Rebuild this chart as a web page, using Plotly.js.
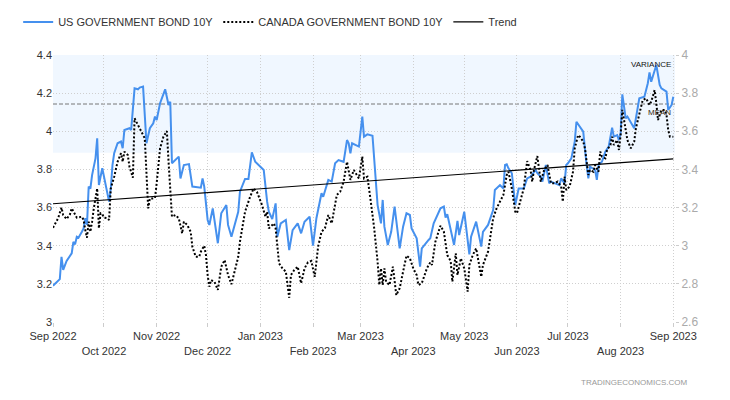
<!DOCTYPE html>
<html>
<head>
<meta charset="utf-8">
<script src="https://cdn.plot.ly/plotly-3.0.1.min.js"></script>
<style>
  html, body { margin: 0; padding: 0; background: #fff; }
  #chart { width: 730px; height: 400px; }
</style>
</head>
<body>
<div id="chart"></div>
<script>
// ---------- DATA ----------
const usDates = [
'2022-09-01','2022-09-05','2022-09-06','2022-09-07','2022-09-09','2022-09-12','2022-09-13','2022-09-14','2022-09-15','2022-09-16',
'2022-09-18','2022-09-19','2022-09-20','2022-09-21','2022-09-22','2022-09-23','2022-09-24','2022-09-26','2022-09-27','2022-09-28',
'2022-09-30','2022-10-03','2022-10-04','2022-10-05','2022-10-06','2022-10-07','2022-10-09','2022-10-11','2022-10-12','2022-10-13',
'2022-10-16','2022-10-17','2022-10-19','2022-10-21','2022-10-22','2022-10-24','2022-10-26','2022-10-28','2022-10-30','2022-10-31',
'2022-11-01','2022-11-03','2022-11-06','2022-11-08','2022-11-09','2022-11-10','2022-11-12','2022-11-14','2022-11-15','2022-11-17',
'2022-11-20','2022-11-22','2022-11-27','2022-11-28','2022-11-29','2022-12-01','2022-12-02','2022-12-04','2022-12-07','2022-12-09',
'2022-12-12','2022-12-13','2022-12-15','2022-12-19','2022-12-20','2022-12-23','2022-12-25','2022-12-27','2022-12-29','2023-01-01',
'2023-01-03','2023-01-05','2023-01-06','2023-01-08','2023-01-10','2023-01-11','2023-01-13','2023-01-16','2023-01-18','2023-01-20',
'2023-01-23','2023-01-25','2023-01-27','2023-01-30','2023-02-01','2023-02-03','2023-02-06','2023-02-07','2023-02-10','2023-02-12',
'2023-02-14','2023-02-16','2023-02-19','2023-02-21','2023-02-22','2023-02-23','2023-02-24','2023-02-28','2023-03-02','2023-03-03',
'2023-03-05','2023-03-08','2023-03-10','2023-03-11','2023-03-13','2023-03-14','2023-03-15','2023-03-17','2023-03-19','2023-03-21',
'2023-03-24','2023-03-26','2023-03-28','2023-03-30','2023-03-31','2023-04-03','2023-04-05','2023-04-06','2023-04-10','2023-04-11',
'2023-04-13','2023-04-17','2023-04-19','2023-04-20','2023-04-21','2023-04-25','2023-04-27','2023-04-28','2023-05-01','2023-05-04',
'2023-05-05','2023-05-08','2023-05-11','2023-05-12','2023-05-15','2023-05-18','2023-05-19','2023-05-21','2023-05-22','2023-05-24',
'2023-05-25','2023-05-26','2023-05-27','2023-05-29','2023-05-31','2023-06-02','2023-06-05','2023-06-07','2023-06-09','2023-06-12',
'2023-06-13','2023-06-15','2023-06-16','2023-06-18','2023-06-20','2023-06-21','2023-06-24','2023-06-26','2023-06-27','2023-06-29',
'2023-06-30','2023-07-01','2023-07-03','2023-07-05','2023-07-06','2023-07-08','2023-07-10','2023-07-12','2023-07-13','2023-07-14',
'2023-07-17','2023-07-18','2023-07-19','2023-07-21','2023-07-23','2023-07-25','2023-07-27','2023-07-28','2023-07-30','2023-07-31',
'2023-08-01','2023-08-02','2023-08-04','2023-08-05','2023-08-07','2023-08-09','2023-08-12','2023-08-15','2023-08-17','2023-08-18',
'2023-08-19','2023-08-22','2023-08-24','2023-08-25','2023-08-28','2023-08-29','2023-08-31','2023-09-01'
];
const usYield = [
3.19,3.225,3.342,3.273,3.32,3.36,3.42,3.407,3.447,3.442,
3.473,3.491,3.544,3.51,3.71,3.70,3.77,3.858,3.963,3.718,
3.806,3.683,3.631,3.70,3.823,3.885,3.937,3.946,3.911,4.007,
4.016,4.007,4.225,4.22,4.229,4.234,3.937,4.016,4.042,4.077,
4.059,4.147,4.22,4.138,4.155,3.832,3.849,3.867,3.753,3.823,
3.828,3.71,3.704,3.753,3.71,3.535,3.509,3.596,3.413,3.57,
3.613,3.509,3.447,3.578,3.683,3.75,3.75,3.89,3.84,3.814,
3.797,3.631,3.578,3.54,3.622,3.447,3.517,3.535,3.377,3.482,
3.517,3.465,3.526,3.552,3.40,3.544,3.675,3.657,3.745,3.736,
3.832,3.849,3.84,3.954,3.937,3.885,3.937,3.92,4.077,3.972,
3.984,3.977,3.70,3.613,3.517,3.64,3.50,3.404,3.473,3.605,
3.386,3.50,3.57,3.561,3.491,3.439,3.29,3.386,3.43,3.439,
3.517,3.596,3.605,3.547,3.565,3.404,3.53,3.456,3.578,3.355,
3.447,3.526,3.395,3.473,3.509,3.587,3.692,3.71,3.718,3.70,
3.823,3.827,3.806,3.78,3.613,3.70,3.70,3.753,3.762,3.797,
3.78,3.762,3.736,3.823,3.727,3.736,3.727,3.718,3.753,3.727,
3.823,3.832,3.858,3.946,4.05,4.024,3.998,3.823,3.753,3.814,
3.797,3.745,3.823,3.84,3.893,3.92,4.019,3.972,3.98,3.954,
3.989,4.194,4.068,4.077,4.05,4.016,4.173,4.181,4.252,4.309,
4.26,4.348,4.243,4.225,4.208,4.112,4.138,4.181
];

const caDates = [
'2022-09-01','2022-09-04','2022-09-06','2022-09-07','2022-09-09','2022-09-11','2022-09-12','2022-09-14','2022-09-15','2022-09-18',
'2022-09-19','2022-09-20','2022-09-21','2022-09-22','2022-09-23','2022-09-24','2022-09-25','2022-09-27','2022-09-28','2022-09-29',
'2022-09-30','2022-10-01','2022-10-03','2022-10-04','2022-10-05','2022-10-07','2022-10-09','2022-10-11','2022-10-12','2022-10-13',
'2022-10-15','2022-10-16','2022-10-18','2022-10-19','2022-10-21','2022-10-22','2022-10-25','2022-10-27','2022-10-28','2022-10-30',
'2022-10-31','2022-11-01','2022-11-03','2022-11-05','2022-11-07','2022-11-08','2022-11-10','2022-11-12','2022-11-14','2022-11-16',
'2022-11-17','2022-11-19','2022-11-21','2022-11-22','2022-11-24','2022-11-26','2022-11-27','2022-11-29','2022-11-30','2022-12-01',
'2022-12-02','2022-12-03','2022-12-05','2022-12-07','2022-12-09','2022-12-11','2022-12-13','2022-12-15','2022-12-19','2022-12-20',
'2022-12-23','2022-12-26','2022-12-28','2022-12-30','2023-01-02','2023-01-04','2023-01-05','2023-01-06','2023-01-09','2023-01-10',
'2023-01-12','2023-01-14','2023-01-16','2023-01-18','2023-01-19','2023-01-21','2023-01-23','2023-01-25','2023-01-27','2023-01-29',
'2023-01-31','2023-02-02','2023-02-04','2023-02-06','2023-02-08','2023-02-10','2023-02-12','2023-02-15','2023-02-17','2023-02-19',
'2023-02-21','2023-02-23','2023-02-25','2023-02-28','2023-03-02','2023-03-03','2023-03-05','2023-03-07','2023-03-09','2023-03-11',
'2023-03-12','2023-03-13','2023-03-14','2023-03-15','2023-03-16','2023-03-18','2023-03-20','2023-03-22','2023-03-24','2023-03-26',
'2023-03-28','2023-03-30','2023-04-01','2023-04-03','2023-04-04','2023-04-06','2023-04-09','2023-04-11','2023-04-12','2023-04-14',
'2023-04-17','2023-04-19','2023-04-21','2023-04-23','2023-04-24','2023-04-26','2023-04-27','2023-04-29','2023-05-01','2023-05-03',
'2023-05-04','2023-05-06','2023-05-08','2023-05-11','2023-05-12','2023-05-15','2023-05-18','2023-05-20','2023-05-22','2023-05-24',
'2023-05-26','2023-05-27','2023-05-29','2023-05-31','2023-06-01','2023-06-03','2023-06-05','2023-06-07','2023-06-09','2023-06-10',
'2023-06-11','2023-06-13','2023-06-15','2023-06-17','2023-06-19','2023-06-21','2023-06-23','2023-06-25','2023-06-27','2023-06-28',
'2023-06-29','2023-06-30','2023-07-02','2023-07-04','2023-07-05','2023-07-07','2023-07-08','2023-07-10','2023-07-11','2023-07-13',
'2023-07-14','2023-07-16','2023-07-17','2023-07-19','2023-07-20','2023-07-21','2023-07-23','2023-07-24','2023-07-26','2023-07-27',
'2023-07-28','2023-07-30','2023-07-31','2023-08-01','2023-08-02','2023-08-04','2023-08-05','2023-08-07','2023-08-09','2023-08-10',
'2023-08-12','2023-08-14','2023-08-16','2023-08-18','2023-08-19','2023-08-21','2023-08-22','2023-08-23','2023-08-25','2023-08-27',
'2023-08-28','2023-08-29','2023-08-30','2023-09-01'
];
const caYield = [
3.094,3.144,3.20,3.161,3.14,3.165,3.196,3.161,3.147,3.152,
3.135,3.082,3.042,3.126,3.073,3.126,3.196,3.30,3.091,3.17,
3.165,3.147,3.144,3.135,3.30,3.362,3.44,3.485,3.44,3.493,
3.476,3.414,3.357,3.668,3.633,3.607,3.563,3.196,3.248,3.248,
3.25,3.327,3.511,3.572,3.601,3.44,3.152,3.161,3.144,3.065,
3.126,3.109,3.073,2.995,2.942,2.942,2.969,3.00,2.951,2.846,
2.785,2.82,2.811,2.768,2.89,2.925,2.846,2.798,2.942,3.021,
3.178,3.257,3.30,3.283,3.213,3.152,3.178,3.091,3.117,3.091,
2.908,2.881,2.864,2.727,2.846,2.873,2.89,2.803,2.881,2.913,
2.92,2.837,2.995,3.073,3.091,3.161,3.117,3.266,3.283,3.336,
3.44,3.345,3.397,3.353,3.467,3.353,3.362,3.231,3.091,2.916,
2.794,2.881,2.794,2.881,2.811,2.794,2.89,2.741,2.777,2.864,
2.948,2.934,2.881,2.846,2.794,2.803,2.881,2.913,2.899,3.021,
3.105,3.073,2.951,2.92,2.811,2.96,2.846,2.934,2.881,2.759,
2.899,2.951,2.986,2.837,2.899,2.969,3.144,3.196,3.231,3.266,
3.371,3.388,3.30,3.178,3.17,3.231,3.30,3.444,3.397,3.336,
3.397,3.47,3.336,3.397,3.423,3.327,3.327,3.336,3.31,3.231,
3.362,3.292,3.31,3.388,3.511,3.58,3.572,3.546,3.511,3.371,
3.397,3.388,3.423,3.388,3.493,3.467,3.458,3.502,3.528,3.572,
3.528,3.554,3.502,3.58,3.712,3.607,3.554,3.511,3.546,3.616,
3.686,3.764,3.773,3.738,3.755,3.816,3.747,3.659,3.712,3.712,
3.686,3.607,3.572,3.572
];

const trendDates = ['2022-09-01','2023-09-01'];
const trendValues = [3.62, 3.855];

const meanValue = 4.143;      // US series mean marker
const bandLower = 3.888;      // variance band lower bound

const xTickDates = ['2022-09-01','2022-10-01','2022-11-01','2022-12-01','2023-01-01','2023-02-01','2023-03-01',
                    '2023-04-01','2023-05-01','2023-06-01','2023-07-01','2023-08-01','2023-09-01'];
const xTickLabels = ['Sep 2022','Oct 2022','Nov 2022','Dec 2022','Jan 2023','Feb 2023','Mar 2023',
                     'Apr 2023','May 2023','Jun 2023','Jul 2023','Aug 2023','Sep 2023'];

const seriesNames = ['US GOVERNMENT BOND 10Y','CANADA GOVERNMENT BOND 10Y','Trend'];

// ---------- CHART ----------
const font = 'Liberation Sans, Arial, sans-serif';

const traces = [
  { x: usDates, y: usYield, name: seriesNames[0], type: 'scatter', mode: 'lines',
    line: { color: '#4590ee', width: 2 }, yaxis: 'y', hoverinfo: 'skip' },
  { x: caDates, y: caYield, name: seriesNames[1], type: 'scatter', mode: 'lines',
    line: { color: '#000000', width: 2, dash: '2px,2px' }, yaxis: 'y2', hoverinfo: 'skip' },
  { x: trendDates, y: trendValues, name: seriesNames[2], type: 'scatter', mode: 'lines',
    line: { color: '#000000', width: 1.2 }, yaxis: 'y', hoverinfo: 'skip' }
];

const layout = {
  width: 730, height: 400,
  margin: { l: 53, r: 55, t: 55, b: 78, autoexpand: false },
  paper_bgcolor: '#ffffff', plot_bgcolor: '#ffffff',
  font: { family: font, size: 11, color: '#333' },
  showlegend: true,
  legend: {
    orientation: 'h', x: -0.056, xanchor: 'left', y: 1.124, yanchor: 'middle',
    font: { family: font, size: 11, color: '#333' }, bgcolor: 'rgba(0,0,0,0)',
    traceorder: 'normal'
  },
  xaxis: {
    type: 'date', range: ['2022-09-01', '2023-09-02'],
    tickmode: 'array', tickvals: xTickDates,
    ticktext: xTickLabels.map((t, i) => (i % 2 ? '<br>' + t : t)),
    tickangle: 0,
    showgrid: true, gridcolor: '#cfcfcf', griddash: '1px,2px', gridwidth: 1,
    ticks: 'outside', ticklen: 4, tickcolor: '#cccccc',
    zeroline: false, showline: false,
    tickfont: { family: font, size: 11, color: '#333' }
  },
  yaxis: {
    range: [3, 4.4], dtick: 0.2, tick0: 3,
    showgrid: true, gridcolor: '#cfcfcf', griddash: '1px,2px', gridwidth: 1,
    zeroline: false, showline: false, ticks: '',
    tickfont: { family: font, size: 11, color: '#333' }
  },
  yaxis2: {
    range: [2.6, 4.0], dtick: 0.2, tick0: 2.6,
    overlaying: 'y', side: 'right', showgrid: false, zeroline: false, showline: false,
    ticks: 'outside', ticklen: 3, tickcolor: '#cccccc',
    tickfont: { family: font, size: 12, color: '#aaaaaa' }
  },
  shapes: [
    { type: 'rect', xref: 'paper', x0: 0, x1: 1, yref: 'y', y0: bandLower, y1: 4.4,
      fillcolor: '#f0f7ff', line: { width: 0 }, layer: 'between' },
    { type: 'line', xref: 'paper', x0: 0, x1: 1, yref: 'y', y0: meanValue, y1: meanValue,
      line: { color: '#777777', width: 1, dash: '4px,2px' }, layer: 'between' }
  ],
  annotations: [
    { text: 'VARIANCE', xref: 'paper', yref: 'paper', x: 0.997, y: 0.963, xanchor: 'right', yanchor: 'middle',
      showarrow: false, font: { family: font, size: 8, color: '#111' } },
    { text: 'MEAN', xref: 'paper', yref: 'paper', x: 0.997, y: 0.783, xanchor: 'right', yanchor: 'middle',
      showarrow: false, font: { family: font, size: 8, color: '#3a2a10' } },
    { text: 'TRADINGECONOMICS.COM', xref: 'paper', yref: 'paper', x: 1.024, y: -0.228, xanchor: 'right', yanchor: 'middle',
      showarrow: false, font: { family: font, size: 8, color: '#999999' } }
  ]
};

Plotly.newPlot('chart', traces, layout, { displayModeBar: false, staticPlot: true });
</script>
</body>
</html>
